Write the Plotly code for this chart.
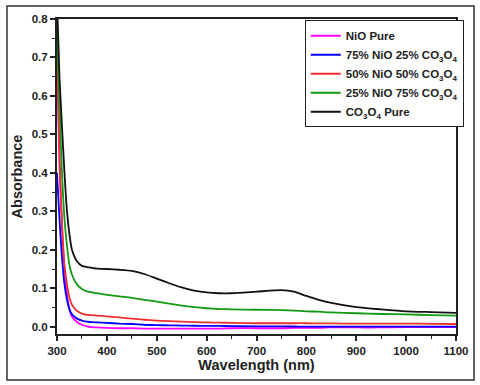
import plotly.graph_objects as go

wavelength = [300, 305, 310, 315, 320, 325, 330, 340, 350, 360, 370, 380, 400, 425, 450, 475, 500,
              525, 550, 575, 600, 625, 650, 700, 750, 775, 800, 825, 850, 900, 950, 1000, 1050, 1100]

nio_pure = [0.70, 0.42, 0.26, 0.15, 0.085, 0.045, 0.026, 0.012, 0.005, 0.001, -0.001, -0.002, -0.003,
            -0.004, -0.004, -0.005, -0.005, -0.005, -0.005, -0.005, -0.005, -0.005, -0.004, -0.004,
            -0.004, -0.003, -0.003, -0.003, -0.002, -0.002, -0.002, -0.001, -0.001, -0.001]
nio75 = [0.40, 0.28, 0.18, 0.11, 0.07, 0.045, 0.032, 0.021, 0.016, 0.013, 0.012, 0.011, 0.010,
         0.008, 0.007, 0.005, 0.004, 0.0035, 0.003, 0.0025, 0.002, 0.002, 0.0015, 0.001, 0.001,
         0.0005, 0.0, 0.0, 0.0, 0.0, 0.0, 0.0, 0.0, 0.0]
nio50 = [0.73, 0.45, 0.27, 0.16, 0.11, 0.075, 0.057, 0.041, 0.034, 0.031, 0.030, 0.029, 0.027,
         0.024, 0.021, 0.018, 0.016, 0.0145, 0.013, 0.012, 0.011, 0.0105, 0.010, 0.009, 0.009,
         0.009, 0.009, 0.0085, 0.0085, 0.008, 0.008, 0.008, 0.0075, 0.007]
nio25 = [0.77, 0.58, 0.40, 0.28, 0.21, 0.16, 0.135, 0.11, 0.098, 0.092, 0.089, 0.087, 0.083,
         0.079, 0.075, 0.070, 0.065, 0.060, 0.055, 0.051, 0.048, 0.046, 0.045, 0.044, 0.043,
         0.042, 0.040, 0.039, 0.037, 0.035, 0.033, 0.032, 0.030, 0.029]
co3o4_pure = [0.85, 0.65, 0.52, 0.40, 0.30, 0.24, 0.20, 0.17, 0.158, 0.155, 0.153, 0.151, 0.150,
              0.148, 0.145, 0.137, 0.125, 0.113, 0.102, 0.094, 0.089, 0.087, 0.087, 0.091, 0.095,
              0.091, 0.080, 0.070, 0.062, 0.051, 0.045, 0.040, 0.038, 0.036]

series = [
    ("NiO Pure", nio_pure, "#ff00ff"),
    ("75% NiO 25% CO<sub>3</sub>O<sub>4</sub>", nio75, "#0000ff"),
    ("50% NiO 50% CO<sub>3</sub>O<sub>4</sub>", nio50, "#f03030"),
    ("25% NiO 75% CO<sub>3</sub>O<sub>4</sub>", nio25, "#139a13"),
    ("CO<sub>3</sub>O<sub>4</sub> Pure", co3o4_pure, "#111111"),
]

fig = go.Figure()
for name, vals, color in series:
    fig.add_trace(go.Scatter(x=wavelength, y=vals, mode="lines", name=name,
                             line=dict(color=color, width=1.8, shape="spline", smoothing=0.6)))

font_bold = "Liberation Sans"
fig.update_layout(
    width=480, height=385,
    margin=dict(l=57, r=24, t=19, b=51),
    paper_bgcolor="white", plot_bgcolor="white",
    font=dict(family=font_bold, color="#222"),
    showlegend=True,
    legend=dict(x=0.621, y=0.996, xanchor="left", yanchor="top",
                bgcolor="white", bordercolor="#222", borderwidth=1,
                font=dict(family=font_bold, size=11.5, color="#222", weight="bold"),
                tracegroupgap=0, itemwidth=30),
    xaxis=dict(range=[300, 1100], dtick=100, tick0=300, ticks="outside", ticklen=5, tickwidth=1.5,
               tickcolor="#222", showline=True, linecolor="#222", linewidth=2, mirror=True,
               showgrid=False, zeroline=False,
               minor=dict(dtick=50, ticks="outside", ticklen=3, tickwidth=1.2, tickcolor="#222"),
               tickfont=dict(size=11.5, weight="bold", family=font_bold, color="#222"),
               title=dict(text="Wavelength (nm)", standoff=4,
                          font=dict(size=14.5, weight="bold", family=font_bold, color="#222"))),
    yaxis=dict(range=[-0.019, 0.8], dtick=0.1, tick0=0, tickformat=".1f", ticks="outside", ticklen=5,
               tickwidth=1.5, tickcolor="#222", showline=True, linecolor="#222", linewidth=2,
               mirror=True, showgrid=False, zeroline=False,
               minor=dict(dtick=0.05, ticks="outside", ticklen=3, tickwidth=1.2, tickcolor="#222"),
               tickfont=dict(size=11.5, weight="bold", family=font_bold, color="#222"),
               title=dict(text="Absorbance", standoff=6,
                          font=dict(size=14.5, weight="bold", family=font_bold, color="#222"))),
)

# outer frame of the figure
fig.add_shape(type="rect", xref="paper", yref="paper",
              x0=(7 - 57) / 399, x1=(474 - 57) / 399, y0=(334 - 380) / 315, y1=(334 - 6) / 315,
              line=dict(color="#333", width=1.5), fillcolor="rgba(0,0,0,0)", layer="below")

fig.write_html("out.html", config={"displayModeBar": False},
               post_script="document.body.style.margin='0';document.body.style.overflow='hidden';")
